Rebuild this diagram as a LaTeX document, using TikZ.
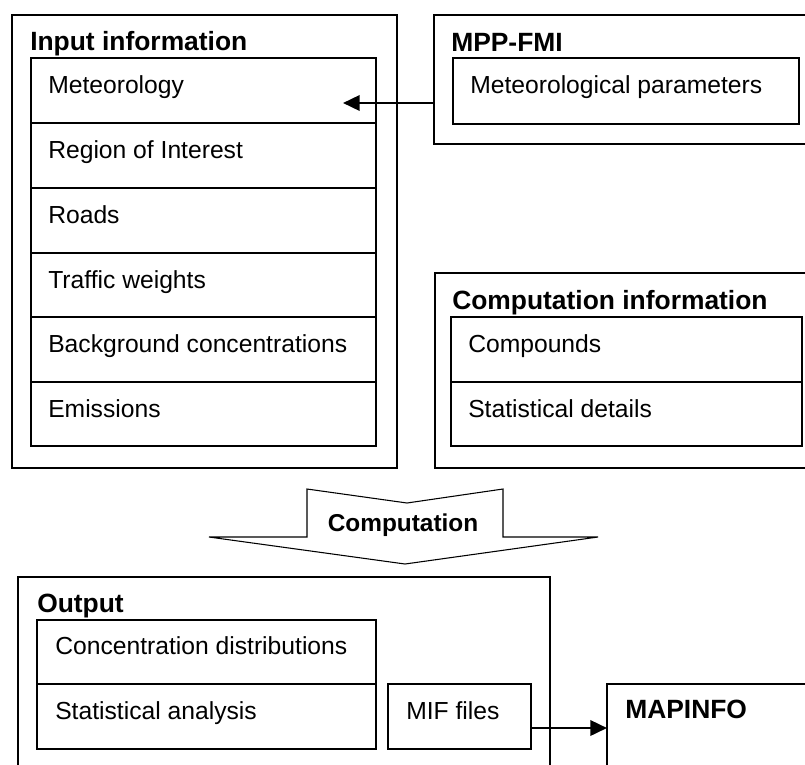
\documentclass[tikz,border=0pt]{standalone}
\usepackage{fontspec}
\setmainfont{Liberation Sans}
\usetikzlibrary{fit,arrows.meta}
\newcommand\rtxt{\fontsize{18.5}{22}\selectfont}
\newcommand\btxt{\fontsize{19.8}{24}\selectfont\bfseries}
\tikzset{
  boxst/.style={draw=black, line width=0.8pt, inner sep=0pt, outer sep=0pt, fill=none},
  lbl/.style={anchor=base west, inner sep=0pt, font=\rtxt},
  ttl/.style={anchor=base west, inner sep=0pt, font=\btxt},
  arr/.style={line width=1.9pt, -{Triangle[length=12.5pt,width=11.5pt]}},
}
\begin{document}
\begin{tikzpicture}[x=0.75pt,y=-0.75pt]
\useasboundingbox (0,0) rectangle (805,764);
\fill[white] (0,0) rectangle (805,764);
\clip (0,0) rectangle (805,764);

% Input information
\node[boxst, fit={(12,15) (397,468)}] (input) {};
\node[ttl] (inputt) at (30,50) {Input information};
\node[boxst, fit={(31,58) (376,123)}] (met) {};
\node[boxst, fit={(31,123) (376,188)}] (roi) {};
\node[boxst, fit={(31,188) (376,253)}] (roads) {};
\node[boxst, fit={(31,253) (376,317)}] (traf) {};
\node[boxst, fit={(31,317) (376,382)}] (bg) {};
\node[boxst, fit={(31,382) (376,446)}] (emi) {};
\node[lbl] (mett) at (48,93) {Meteorology};
\node[lbl] (roit) at (48,158) {Region of Interest};
\node[lbl] (roadst) at (48,223) {Roads};
\node[lbl] (traft) at (48,288) {Traffic weights};
\node[lbl] (bgt) at (48,352) {Background concentrations};
\node[lbl] (emit) at (48,417) {Emissions};

% MPP-FMI
\node[boxst, fit={(434,15) (830,144)}] (mpp) {};
\node[ttl] (mppt) at (451,51) {MPP-FMI};
\node[boxst, fit={(453,58) (799,124)}] (mpar) {};
\node[lbl] (mpart) at (470,93) {Meteorological parameters};
\coordinate (metend) at (343,103);
\draw[arr] (mpp.west |- metend) -- (metend);

% Computation information
\node[boxst, fit={(435,273) (830,468)}] (comp) {};
\node[ttl] (compt) at (452,309) {Computation information};
\node[boxst, fit={(451,317) (802,382)}] (cpd) {};
\node[boxst, fit={(451,382) (802,446)}] (stat) {};
\node[lbl] (cpdt) at (468,352) {Compounds};
\node[lbl] (statt) at (468,417) {Statistical details};

% Computation arrow
\draw[line width=0.8pt, fill=white] (307,489) -- (407,503) -- (503,489) -- (503,537) -- (598,537)
  -- (405,564) -- (209,537) -- (307,537) -- cycle;
\node[anchor=base, inner sep=0pt, font=\fontsize{18.3}{22}\selectfont\bfseries] (compu) at (403,531) {Computation};

% Output
\node[boxst, fit={(18,577) (550,800)}] (output) {};
\node[ttl] (outputt) at (37,612) {Output};
\node[boxst, fit={(37,620) (376,684)}] (cdist) {};
\node[boxst, fit={(37,684) (376,749)}] (stan) {};
\node[lbl] (cdistt) at (55,654) {Concentration distributions};
\node[lbl] (stant) at (55,719) {Statistical analysis};
\node[boxst, fit={(388,684) (531,749)}] (mif) {};
\node[lbl] (mift) at (406,719) {MIF files};

% MAPINFO
\node[boxst, fit={(607,684) (830,800)}] (mapinfo) {};
\node[ttl] (mapinfot) at (625,718) {MAPINFO};
\coordinate (mifout) at (mif.east |- 0,728);
\draw[arr] (mifout) -- (mifout -| mapinfo.west);
\end{tikzpicture}
\end{document}
